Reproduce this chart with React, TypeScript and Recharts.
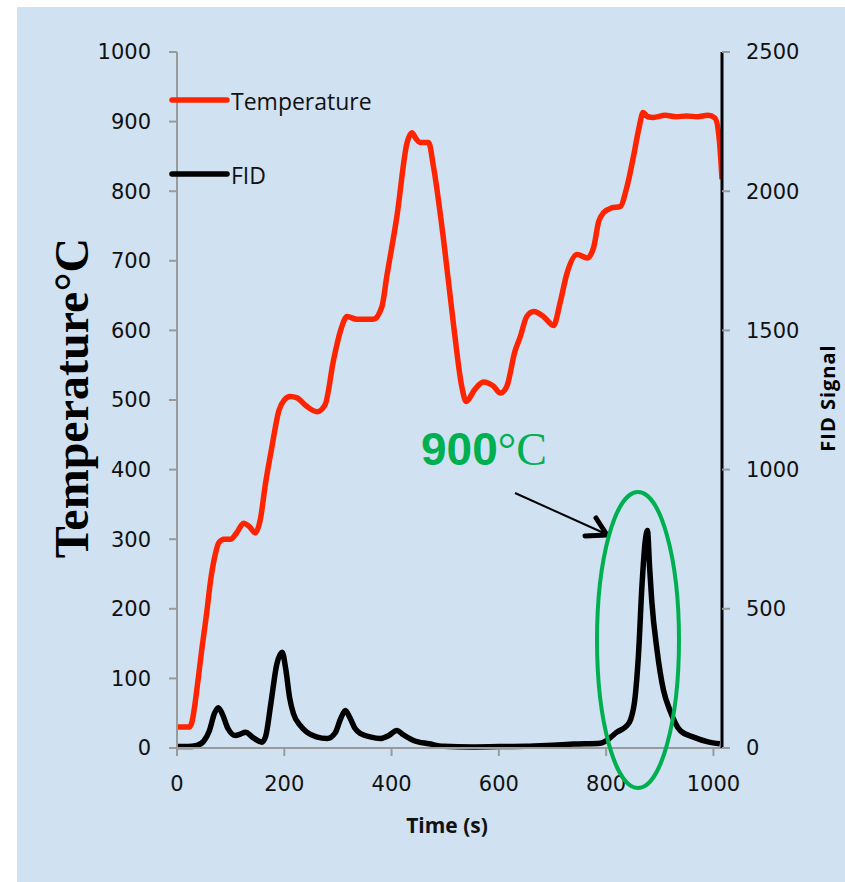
import React from 'react';
import { LineChart, Line, XAxis, YAxis, Legend } from 'recharts';

// temperature trace (s, °C)
const TEMP_TIME = [0, 22, 27, 31, 38, 46, 56, 62, 71, 78, 88, 100, 112, 124, 135, 146, 155, 165, 177, 190, 200, 211, 224, 240, 261, 276, 292, 305, 317, 335, 366, 382, 391, 410, 429, 438, 445, 453, 469, 478, 497, 516, 531, 539, 555, 571, 590, 603, 615, 630, 640, 652, 665, 683, 702, 714, 727, 746, 765, 777, 786, 795, 810, 826, 839, 851, 861, 869, 878, 888, 910, 930, 950, 970, 990, 1003, 1011, 1016];
const TEMP = [30, 30, 35, 50, 90, 140, 198, 237, 277, 295, 300, 300, 310, 323, 318, 309, 327, 380, 433, 485, 500, 505, 503, 492, 483, 493, 558, 600, 620, 616, 616, 634, 677, 764, 870, 884, 876, 870, 870, 836, 730, 605, 519, 498, 515, 526, 520, 510, 520, 570, 591, 620, 627, 620, 607, 639, 682, 709, 704, 720, 756, 769, 776, 778, 807, 850, 890, 913, 907, 906, 909, 907, 908, 907, 909, 905, 874, 817];

// FID signal trace (s, a.u.)
const FID_TIME = [0, 20, 37, 50, 60, 70, 77, 85, 95, 109, 118, 128, 140, 158, 165, 175, 186, 196, 203, 210, 217, 230, 242, 260, 280, 295, 305, 314, 322, 332, 342, 360, 379, 395, 410, 420, 441, 470, 497, 550, 600, 650, 700, 740, 789, 801, 820, 839, 845, 854, 860, 867, 873, 877, 881, 885, 895, 907, 919, 938, 963, 990, 1012];
const FID = [5, 5, 9, 25, 60, 125, 145, 120, 70, 45, 50, 57, 40, 21, 40, 160, 300, 344, 280, 180, 124, 80, 57, 40, 34, 55, 105, 135, 110, 70, 52, 40, 34, 45, 63, 50, 27, 15, 6, 4, 5, 6, 10, 14, 17, 27, 57, 81, 99, 182, 326, 590, 745, 781, 650, 530, 350, 207, 135, 63, 39, 22, 15];

const X_TICKS = [0, 200, 400, 600, 800, 1000];
const TEMP_TICKS = [0, 100, 200, 300, 400, 500, 600, 700, 800, 900, 1000];
const FID_TICKS = [0, 500, 1000, 1500, 2000, 2500];

const tempData = TEMP_TIME.map((t, i) => ({ t, temp: TEMP[i] }));
const fidData = FID_TIME.map((t, i) => ({ t, fid: FID[i] }));

const RED = '#FF2400';
const GREEN = '#00B050';
const tickFont = { fontFamily: 'DejaVu Sans', fontSize: 21, fill: '#111' };

const LegendBox = () => (
    <svg width={260} height={120} style={{ overflow: 'visible' }}>
        <line x1={2} x2={57} y1={15} y2={15} stroke={RED} strokeWidth={5.5} strokeLinecap="round" />
        <text x={61} y={25} fontFamily="Open Sans" fontSize={23} fill="#111">Temperature</text>
        <line x1={2} x2={57} y1={89} y2={89} stroke="#000" strokeWidth={5.5} strokeLinecap="round" />
        <text x={61} y={99} fontFamily="Open Sans" fontSize={23} fill="#111">FID</text>
    </svg>
);

export default function App() {
    return (
        <div style={{ position: 'absolute', left: 0, top: 0, width: 845, height: 882, background: '#fff' }}>
            <div style={{ position: 'absolute', left: 17, top: 7, width: 828, height: 875, background: '#D0E1F2' }} />
            <div style={{ position: 'absolute', left: 0, top: 0 }}>
                <LineChart width={845} height={882} margin={{ top: 52, right: 63, bottom: 104, left: 117 }}>
                    <XAxis
                        type="number"
                        dataKey="t"
                        domain={[0, 1016]}
                        ticks={X_TICKS}
                        allowDataOverflow
                        height={30}
                        tick={tickFont}
                        tickSize={8}
                        tickMargin={20}
                        stroke="#9a9a9a"
                        strokeWidth={2}
                    />
                    <YAxis
                        yAxisId="temp"
                        domain={[0, 1000]}
                        ticks={TEMP_TICKS}
                        width={60}
                        tick={tickFont}
                        tickSize={8}
                        tickMargin={18}
                        stroke="#9a9a9a"
                        strokeWidth={2}
                    />
                    <YAxis
                        yAxisId="fid"
                        orientation="right"
                        domain={[0, 2500]}
                        ticks={FID_TICKS}
                        width={60}
                        tick={tickFont}
                        tickSize={8}
                        tickMargin={16}
                        axisLine={{ stroke: '#000', strokeWidth: 3 }}
                        tickLine={{ stroke: '#9a9a9a', strokeWidth: 2 }}
                    />
                    <Legend
                        layout="vertical"
                        align="center"
                        verticalAlign="middle"
                        content={() => <LegendBox />}
                        wrapperStyle={{ left: 170, top: 85, width: 260, height: 120 }}
                    />
                    <Line
                        yAxisId="fid"
                        data={fidData}
                        dataKey="fid"
                        name="FID"
                        type="monotone"
                        stroke="#000"
                        strokeWidth={5.5}
                        dot={false}
                        isAnimationActive={false}
                    />
                    <Line
                        yAxisId="temp"
                        data={tempData}
                        dataKey="temp"
                        name="Temperature"
                        type="monotone"
                        stroke={RED}
                        strokeWidth={5.5}
                        dot={false}
                        isAnimationActive={false}
                    />
                </LineChart>
            </div>
            {/* titles and annotation */}
            <svg width={845} height={882} style={{ position: 'absolute', left: 0, top: 0, pointerEvents: 'none' }}>
                <text x={447} y={833} textAnchor="middle" fontFamily="Open Sans" fontWeight="bold" fontSize={21} fill="#111">Time (s)</text>
                <text transform="translate(88,398) rotate(-90)" textAnchor="middle" fontFamily="Liberation Serif" fontWeight="bold" fontSize={48} fill="#000">Temperature°C</text>
                <text transform="translate(835,398) rotate(-90)" textAnchor="middle" fontFamily="Open Sans" fontWeight="bold" fontSize={20} letterSpacing={1} fill="#000">FID Signal</text>
                <text x={421} y={465} fill={GREEN}>
                    <tspan fontFamily="Liberation Sans" fontWeight="bold" fontSize={46}>900</tspan>
                    <tspan fontFamily="Liberation Serif" fontSize={46}>°C</tspan>
                </text>
                <line x1={515} y1={493} x2={606} y2={534} stroke="#000" strokeWidth={2} />
                <polyline points="585,536 607,535 596,518" fill="none" stroke="#000" strokeWidth={5} strokeLinecap="round" strokeLinejoin="round" />
                <ellipse cx={638} cy={640} rx={41} ry={148} fill="none" stroke={GREEN} strokeWidth={4} />
            </svg>
        </div>
    );
}
